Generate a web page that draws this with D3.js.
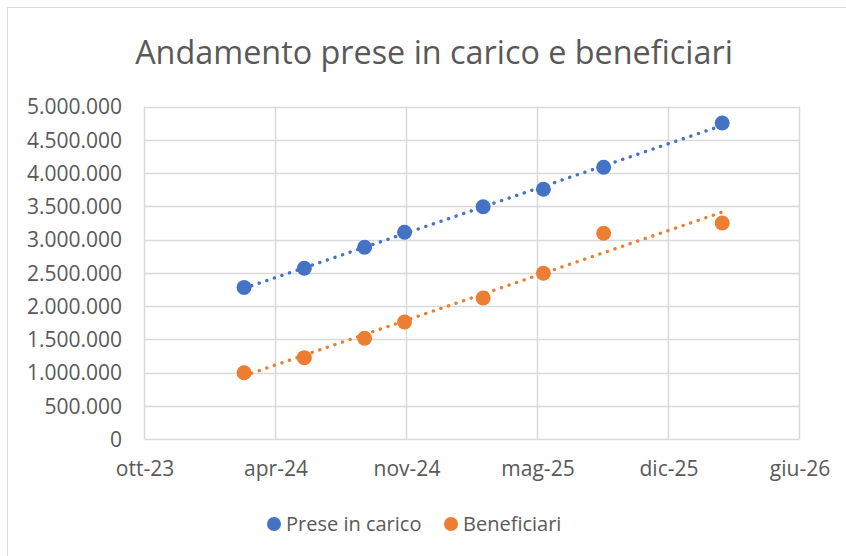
<!DOCTYPE html>
<html>
<head>
<meta charset="utf-8">
<script src="https://cdn.jsdelivr.net/npm/d3@7"></script>
<style>
  body { margin: 0; background: #fff; }
  svg { display: block; font-family: "Open Sans", "Noto Sans", sans-serif; }
</style>
</head>
<body>
<div id="chart"></div>
<script>
// dates of the observations
var dates = ["2024-03-01", "2024-06-01", "2024-09-01", "2024-11-01", "2025-03-01", "2025-06-01", "2025-09-01", "2026-03-01"];
var prese = [2280000, 2567000, 2883000, 3108000, 3493000, 3755000, 4086000, 4752000];
var beneficiari = [997000, 1223000, 1514000, 1759000, 2120000, 2492000, 3093000, 3248000];

var seriesNames = ["Prese in carico", "Beneficiari"];
var seriesColors = ["#4472C4", "#ED7D31"];

// x axis: excel date axis, 200 days per step
var xTicks = ["2023-10-01", "2024-04-18", "2024-11-04", "2025-05-23", "2025-12-09", "2026-06-27"];
var yTicks = [0, 500000, 1000000, 1500000, 2000000, 2500000, 3000000, 3500000, 4000000, 4500000, 5000000];

var W = 846, H = 556;
var textColor = "#595959", gridColor = "#d9d9d9";

var parse = d3.utcParse("%Y-%m-%d");
var itTime = d3.timeFormatLocale({
  dateTime: "%A %e %B %Y, %X", date: "%d/%m/%Y", time: "%H:%M:%S",
  periods: ["AM", "PM"],
  days: ["domenica", "lunedì", "martedì", "mercoledì", "giovedì", "venerdì", "sabato"],
  shortDays: ["dom", "lun", "mar", "mer", "gio", "ven", "sab"],
  months: ["gennaio", "febbraio", "marzo", "aprile", "maggio", "giugno", "luglio", "agosto", "settembre", "ottobre", "novembre", "dicembre"],
  shortMonths: ["gen", "feb", "mar", "apr", "mag", "giu", "lug", "ago", "set", "ott", "nov", "dic"]
});
var fmtDate = itTime.utcFormat("%b-%y");
var itNum = d3.formatLocale({ decimal: ",", thousands: ".", grouping: [3], currency: ["€", ""] });
var fmtNum = itNum.format(",d");

var x = d3.scaleUtc()
  .domain([parse(xTicks[0]), parse(xTicks[xTicks.length - 1])])
  .range([144.5, 799.5]);
var y = d3.scaleLinear().domain([0, 5000000]).range([439, 106.5]);

var svg = d3.select("#chart").append("svg")
  .attr("width", W)
  .attr("height", H);

svg.append("rect")
  .attr("x", 7.5).attr("y", 7.5)
  .attr("width", W).attr("height", H)
  .attr("fill", "#fff")
  .attr("stroke", gridColor);

// title
var title = svg.append("text")
  .attr("x", 434).attr("y", 64)
  .attr("text-anchor", "middle")
  .attr("fill", textColor)
  .style("font-size", "31px")
  .text("Andamento prese in carico e beneficiari");
var tw = title.node().getComputedTextLength();
title.style("font-size", (31 * 598 / tw) + "px");

// gridlines
svg.append("g").selectAll("line")
  .data(yTicks)
  .enter().append("line")
  .attr("x1", 144.5).attr("x2", 799.5)
  .attr("y1", function (d) { return Math.round(y(d)) + 0.5; })
  .attr("y2", function (d) { return Math.round(y(d)) + 0.5; })
  .attr("stroke", gridColor).attr("stroke-width", 1.5);

svg.append("g").selectAll("line")
  .data(xTicks)
  .enter().append("line")
  .attr("x1", function (d) { return x(parse(d)); })
  .attr("x2", function (d) { return x(parse(d)); })
  .attr("y1", 106.5).attr("y2", 439)
  .attr("stroke", gridColor).attr("stroke-width", 1.5);

// axes (labels only)
var yAxis = svg.append("g")
  .attr("transform", "translate(122,0)")
  .call(d3.axisLeft(y).tickValues(yTicks).tickFormat(fmtNum).tickSize(0).tickPadding(0));
var xAxis = svg.append("g")
  .attr("transform", "translate(0,457)")
  .call(d3.axisBottom(x).tickValues(xTicks.map(parse)).tickFormat(fmtDate).tickSize(0).tickPadding(0));
[yAxis, xAxis].forEach(function (a) {
  a.select(".domain").remove();
  a.selectAll("text")
    .attr("fill", textColor)
    .style("font-size", "21px")
    .style("font-family", "'Open Sans', 'Noto Sans', sans-serif");
});
yAxis.selectAll("text").attr("dy", "0.35em");
xAxis.selectAll("text").attr("dy", "0.9em");

// linear trend from the data
function trend(vals) {
  var xs = dates.map(function (d) { return +parse(d); });
  var mx = d3.mean(xs), my = d3.mean(vals);
  var num = d3.sum(xs, function (v, i) { return (v - mx) * (vals[i] - my); });
  var den = d3.sum(xs, function (v) { return (v - mx) * (v - mx); });
  var b = num / den, a = my - b * mx;
  return [xs[0], xs[xs.length - 1]].map(function (v) { return [v, a + b * v]; });
}

var allSeries = [prese, beneficiari];

allSeries.forEach(function (vals, k) {
  var t = trend(vals);
  svg.append("line")
    .attr("x1", x(t[0][0])).attr("y1", y(t[0][1]))
    .attr("x2", x(t[1][0])).attr("y2", y(t[1][1]))
    .attr("stroke", seriesColors[k])
    .attr("stroke-width", 3.4)
    .attr("stroke-linecap", "round")
    .attr("stroke-dasharray", "0.1 7.9");
});

allSeries.forEach(function (vals, k) {
  svg.append("g").selectAll("circle")
    .data(vals)
    .enter().append("circle")
    .attr("cx", function (d, i) { return x(parse(dates[i])); })
    .attr("cy", function (d) { return y(d); })
    .attr("r", 7.5)
    .attr("fill", seriesColors[k]);
});

// legend
var legendX = [274, 451];
var legend = svg.append("g").selectAll("g")
  .data(seriesNames)
  .enter().append("g")
  .attr("transform", function (d, i) { return "translate(" + legendX[i] + ",524)"; });
legend.append("circle")
  .attr("r", 7)
  .attr("fill", function (d, i) { return seriesColors[i]; });
legend.append("text")
  .attr("x", 12).attr("y", 7)
  .attr("fill", textColor)
  .style("font-size", "20px")
  .text(function (d) { return d; });
</script>
</body>
</html>
